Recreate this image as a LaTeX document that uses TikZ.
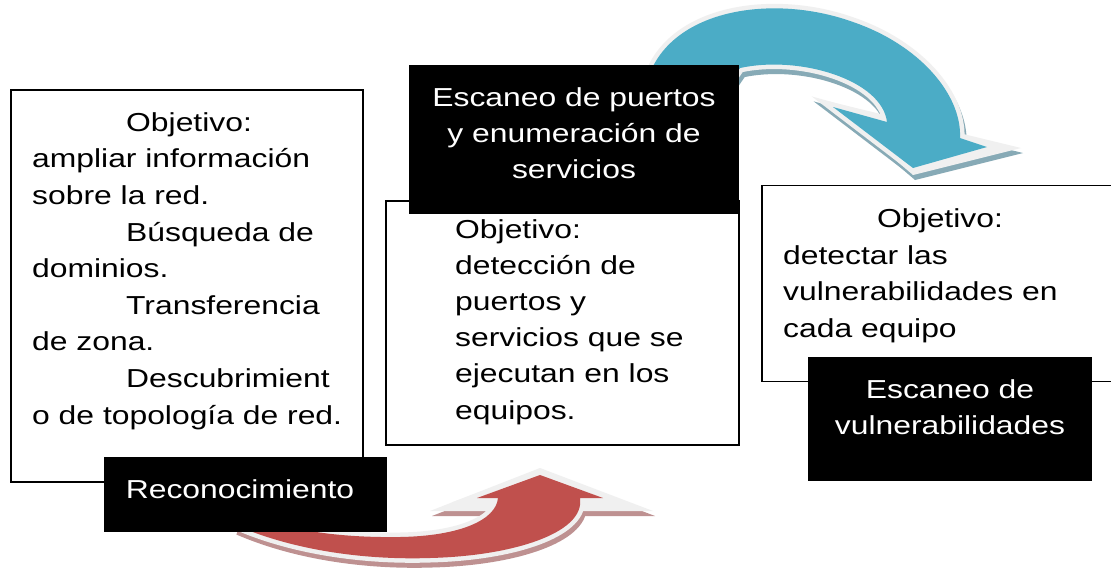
\documentclass[tikz,border=0pt]{standalone}
\usepackage{fontspec}
\setmainfont{Liberation Sans}[FakeStretch=1.225]
\definecolor{arrred}{RGB}{192,80,77}
\definecolor{arrblue}{RGB}{75,172,198}
\definecolor{rimgray}{RGB}{240,240,240}
\definecolor{redshadow}{RGB}{190,145,145}
\definecolor{blueshadow}{RGB}{135,170,182}
\def\RedArrowPath{(240,527) .. controls (300,552) and (370,560) .. (430,558) .. controls (510,556) and (576,535) .. (580,505) -- (580,498) -- (603,498) -- (540,475) -- (477,498) -- (498,498) .. controls (496,520) and (460,536) .. (400,537) .. controls (330,538) and (280,528) .. (245,512) -- cycle}
\def\RedFlarePath{(430,511) -- (540,468) -- (653,511) -- cycle}
\def\BlueArrowPath{(645,90) .. controls (660,10) and (770,-8) .. (853,22) .. controls (920,45) and (962,95) .. (960,138) -- (987,147) -- (913,168) -- (833,107) -- (887,122) .. controls (882,80) and (800,55) .. (740,68) -- (725,90) -- cycle}
\def\BlueFlarePath{(827,101) -- (1021,148) -- (913,175) -- cycle}
\tikzset{
  whitebox/.style={draw=black, line width=1.4pt, fill=white, inner sep=0pt},
  blackbox/.style={fill=black, draw=none, inner sep=0pt},
  bodytext/.style={inner sep=0pt, align=left, anchor=base west, text=black,
    font=\fontsize{26pt}{36.4pt}\selectfont},
  labeltext/.style={inner sep=0pt, align=center, anchor=base, text=white,
    font=\fontsize{26pt}{36pt}\selectfont},
  rim/.style={draw=rimgray, fill=rimgray, line width=9pt, line join=miter},
}
\begin{document}
\begin{tikzpicture}[x=1pt,y=-1pt]
\useasboundingbox (0,0) rectangle (1111,571);
\fill[white] (0,0) rectangle (1111,571);
% red curved arrow
\begin{scope}[shift={(2,5)}]
  \path[draw=redshadow, fill=redshadow, line width=9pt] \RedArrowPath;
  \fill[redshadow] \RedFlarePath;
\end{scope}
\path[rim] \RedArrowPath;
\fill[rimgray] \RedFlarePath;
\fill[arrred] \RedArrowPath;
% blue curved arrow
\begin{scope}[shift={(2,5)}]
  \path[draw=blueshadow, fill=blueshadow, line width=9pt] \BlueArrowPath;
  \fill[blueshadow] \BlueFlarePath;
\end{scope}
\path[rim] \BlueArrowPath;
\fill[rimgray] \BlueFlarePath;
\fill[arrblue] \BlueArrowPath;
% boxes
\node[whitebox, minimum width=352pt, minimum height=392pt] (box1) at (187,286) {};
\node[whitebox, minimum width=353pt, minimum height=244pt] (box2) at (562.5,323) {};
\node[whitebox, minimum width=354pt, minimum height=196pt] (box3) at (939,283.5) {};
\node[blackbox, minimum width=283pt, minimum height=75pt] (lab1) at (245.5,494.5) {};
\node[blackbox, minimum width=330pt, minimum height=149pt] (lab2) at (574,139.5) {};
\node[blackbox, minimum width=284pt, minimum height=124pt] (lab3) at (950,419) {};
% texts (anchored at the baseline of their last line)
\node[bodytext, font=\fontsize{26pt}{36.6pt}\selectfont] (t1) at (32,424) {\hspace*{94pt}Objetivo:\\ampliar información\\sobre la red.\\\hspace*{94pt}Búsqueda de\\dominios.\\\hspace*{94pt}Transferencia\\de zona.\\\hspace*{94pt}Descubrimient\\o de topología de red.};
\node[bodytext, font=\fontsize{26pt}{36.2pt}\selectfont] (t2) at (455,419) {Objetivo:\\detección de\\puertos y\\servicios que se\\ejecutan en los\\equipos.};
\node[bodytext] (t3) at (783,337) {\hspace*{94pt}Objetivo:\\detectar las\\vulnerabilidades en\\cada equipo};
\node[labeltext] (l1) at (240,498) {Reconocimiento};
\node[labeltext] (l2) at (574,178) {Escaneo de puertos\\y enumeración de\\servicios};
\node[labeltext] (l3) at (950,434) {Escaneo de\\vulnerabilidades};
\end{tikzpicture}
\end{document}
